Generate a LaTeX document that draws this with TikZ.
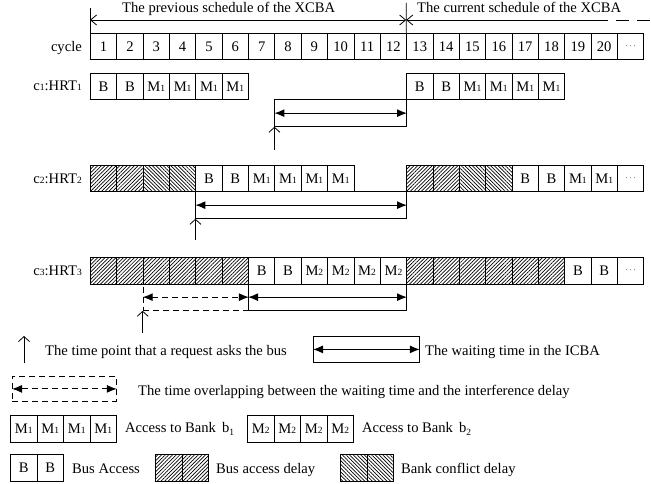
\documentclass[tikz,border=0pt]{standalone}
\usepackage{fontspec}
\setmainfont{Liberation Serif}
\usetikzlibrary{arrows.meta,patterns.meta}
\newcommand\smd[1]{{\fontsize{9.5}{9.5}\selectfont #1}}
\newcommand\Mo{M\smd{1}}
\newcommand\Mt{M\smd{2}}
\newcommand\dts{{\fontsize{9}{9}\selectfont$\cdots$}}
\tikzset{
  cell/.style={draw, line width=0.8pt, minimum width=26.35pt, minimum height=26.5pt, inner sep=0pt, anchor=north west},
  busdelay/.style={cell, pattern={Lines[angle=45,distance=2.6pt,line width=0.7pt]}},
  bankdelay/.style={cell, pattern={Lines[angle=-45,distance=2.6pt,line width=0.7pt]}},
  lab/.style={inner sep=0pt, anchor=base west},
  rlab/.style={inner sep=0pt, anchor=base east},
  dbl/.style={line width=1pt, {Latex[length=10pt,width=8pt]}-{Latex[length=10pt,width=8pt]}},
  req/.style={line width=0.8pt, -{Straight Barb[length=5pt,width=11pt]}},
  wbox/.style={draw, line width=0.8pt, inner sep=0pt, anchor=north west},
  dsh/.style={dash pattern=on 6pt off 4pt},
  sched/.style={line width=0.8pt},
  barb/.tip={Straight Barb[length=6pt,width=10pt]}
}
\begin{document}
\begin{tikzpicture}[x=1pt,y=-1pt,font=\fontsize{14.6}{17}\selectfont]
\useasboundingbox (0,0) rectangle (651,484);

% cycle row
\foreach \i in {1,...,20} \node[cell] (cy\i) at ({90+(\i-1)*26.35},33) {\i};
\node[cell] (cy21) at ({90+20*26.35},33) {\dts};
\node[rlab] (lcy) at (82,51.5) {cycle};

% schedule arrows
\coordinate (tl) at (90,20);
\coordinate (tm) at (406.2,20);
\coordinate (ts) at (595,20);
\coordinate (te) at (651,20);
\coordinate (tlt) at (90,8);
\coordinate (tmt) at (406.2,3);
\draw[sched] (tlt) -- (cy1.north west);
\draw[sched] (tmt) -- (cy13.north west);
\draw[sched, barb-barb] (tl) -- (tm);
\draw[sched, barb-] (tm) -- (ts);
\draw[sched, dash pattern=on 13pt off 8pt] (ts) -- (te);
\node[lab] (tp) at (122,12.5) {The previous schedule of the XCBA};
\node[lab] (tc) at (417,12.5) {The current schedule of the XCBA};

% c1 row
\foreach \i/\t in {1/B,2/B,3/\Mo,4/\Mo,5/\Mo,6/\Mo,13/B,14/B,15/\Mo,16/\Mo,17/\Mo,18/\Mo}
  \node[cell] (ca\i) at ({90+(\i-1)*26.35},73) {\t};
\node[rlab] (l1) at (82,91) {c\smd{1}:HRT\smd{1}};

% c2 row
\foreach \i in {1,2,13,14} \node[busdelay] (cb\i) at ({90+(\i-1)*26.35},165) {};
\foreach \i in {3,4,15,16} \node[bankdelay] (cb\i) at ({90+(\i-1)*26.35},165) {};
\foreach \i/\t in {5/B,6/B,7/\Mo,8/\Mo,9/\Mo,10/\Mo,17/B,18/B,19/\Mo,20/\Mo,21/\dts}
  \node[cell] (cb\i) at ({90+(\i-1)*26.35},165) {\t};
\node[rlab] (l2) at (82,183) {c\smd{2}:HRT\smd{2}};

% c3 row
\foreach \i in {1,...,6,13,14,15,16,17,18} \node[busdelay] (cc\i) at ({90+(\i-1)*26.35},257) {};
\foreach \i/\t in {7/B,8/B,9/\Mt,10/\Mt,11/\Mt,12/\Mt,19/B,20/B,21/\dts}
  \node[cell] (cc\i) at ({90+(\i-1)*26.35},257) {\t};
\node[rlab] (l3) at (82,275) {c\smd{3}:HRT\smd{3}};

% waiting boxes
\node[wbox, minimum width=131.75pt, minimum height=26.5pt] (w1) at (274.45,99.5) {};
\draw[dbl] (w1.west) -- (w1.east);
\coordinate (r1) at (274.45,150);
\draw[req] (r1) -- (w1.south west);

\node[wbox, minimum width=210.8pt, minimum height=26.5pt] (w2) at (195.4,191.5) {};
\draw[dbl] (w2.west) -- (w2.east);
\coordinate (r2) at (195.4,240);
\draw[req] (r2) -- (w2.south west);

\node[wbox, minimum width=158.1pt, minimum height=26.5pt] (w3s) at (248.1,283.5) {};
\node[wbox, dsh, minimum width=105.4pt, minimum height=26.5pt] (w3d) at (142.7,283.5) {};
\draw[dbl] (w3s.west) -- (w3s.east);
\draw[dbl, dsh] (w3d.west) -- (w3d.east);
\coordinate (r3) at (142.7,333);
\draw[req] (r3) -- (w3d.south west);

% legend
\coordinate (lr0) at (24,363);
\coordinate (lr1) at (24,336);
\draw[req] (lr0) -- (lr1);
\node[lab] (t1) at (45,355) {The time point that a request asks the bus};
\node[wbox, minimum width=106pt, minimum height=26pt] (lw) at (313,336) {};
\draw[dbl] (lw.west) -- (lw.east);
\node[lab] (t2) at (425,355) {The waiting time in the ICBA};

\node[wbox, dsh, minimum width=104pt, minimum height=25pt] (ld) at (12,376) {};
\draw[dbl, dsh] (ld.west) -- (ld.east);
\node[lab] (t3) at (138,395) {The time overlapping between the waiting time and the interference delay};

\foreach \i in {0,...,3} \node[cell, minimum width=26.5pt, minimum height=27pt] (ma\i) at ({10+\i*26.5},415) {\Mo};
\node[lab] (t4) at (125,432.5) {Access to Bank\, b\raisebox{-0.5ex}{\smd{1}}};
\foreach \i in {0,...,3} \node[cell, minimum width=26.5pt, minimum height=27pt] (mb\i) at ({247+\i*26.5},415) {\Mt};
\node[lab] (t5) at (362,432.5) {Access to Bank\, b\raisebox{-0.5ex}{\smd{2}}};

\foreach \i in {0,1} \node[cell, minimum width=26.5pt, minimum height=27pt] (bb\i) at ({10+\i*26.5},454) {B};
\node[lab] (t6) at (72,473.5) {Bus Access};
\foreach \i in {0,1} \node[busdelay, minimum width=26.5pt, minimum height=27pt] (bd\i) at ({155+\i*26.5},454) {};
\node[lab] (t7) at (216,473.5) {Bus access delay};
\foreach \i in {0,1} \node[bankdelay, minimum width=26.5pt, minimum height=27pt] (bk\i) at ({340+\i*26.5},454) {};
\node[lab] (t8) at (401,473.5) {Bank conflict delay};
\end{tikzpicture}
\end{document}
